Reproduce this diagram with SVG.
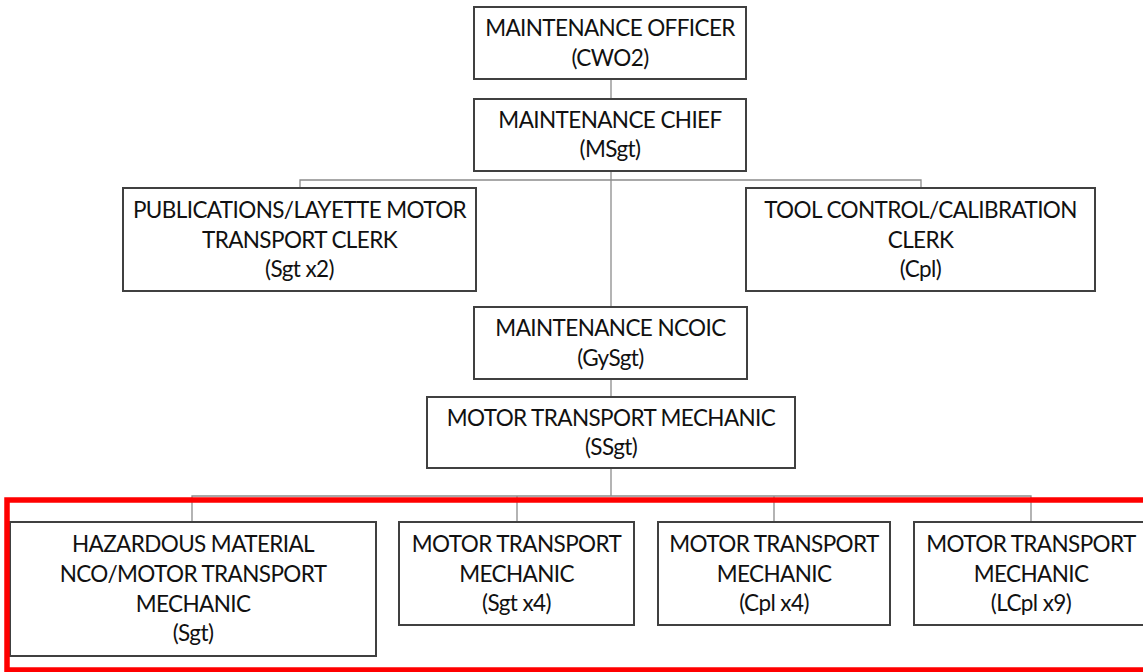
<svg xmlns="http://www.w3.org/2000/svg" width="1143" height="672" viewBox="0 0 1143 672">
  <style>
    .box { fill: #ffffff; stroke: #404040; stroke-width: 2; }
    .lbl { font-family: Lato, "Open Sans", "Liberation Sans", sans-serif; font-size: 22.5px; letter-spacing: -0.6px; fill: #111111; text-anchor: middle; }
    .wire { fill: none; stroke: #8c8c8c; stroke-width: 1.3; }
    .hl { fill: none; stroke: #ff0000; stroke-width: 5.5; }
  </style>
  <rect width="1143" height="672" fill="#ffffff"/>

  <!-- connectors -->
  <g id="connectors">
    <path class="wire" d="M611,79 V99"/>
    <path class="wire" d="M611,171 V307"/>
    <path class="wire" d="M300,188 V180 H921 V188"/>
    <path class="wire" d="M611,379 V397"/>
    <path class="wire" d="M611,468 V496"/>
    <path class="wire" d="M192,522 V496 H1031 V522 M517,496 V522 M774,496 V522"/>
  </g>

  <g id="officer">
    <rect class="box" x="474" y="7" width="272" height="72"/>
    <text class="lbl" x="610" y="36">MAINTENANCE OFFICER</text>
    <text class="lbl" x="610" y="66">(CWO2)</text>
  </g>

  <g id="chief">
    <rect class="box" x="474" y="99" width="272" height="72"/>
    <text class="lbl" x="610" y="128">MAINTENANCE CHIEF</text>
    <text class="lbl" x="610" y="157">(MSgt)</text>
  </g>

  <g id="pubs-clerk">
    <rect class="box" x="123" y="188" width="353" height="103"/>
    <text class="lbl" x="299.5" y="218">PUBLICATIONS/LAYETTE MOTOR</text>
    <text class="lbl" x="299.5" y="247.5">TRANSPORT CLERK</text>
    <text class="lbl" x="299.5" y="277">(Sgt x2)</text>
  </g>

  <g id="tool-clerk">
    <rect class="box" x="746" y="188" width="349" height="103"/>
    <text class="lbl" x="920.5" y="218">TOOL CONTROL/CALIBRATION</text>
    <text class="lbl" x="920.5" y="247.5">CLERK</text>
    <text class="lbl" x="920.5" y="277">(Cpl)</text>
  </g>

  <g id="ncoic">
    <rect class="box" x="474" y="307" width="273" height="72"/>
    <text class="lbl" x="610.5" y="336">MAINTENANCE NCOIC</text>
    <text class="lbl" x="610.5" y="366">(GySgt)</text>
  </g>

  <g id="mech-ssgt">
    <rect class="box" x="427" y="397" width="368" height="71"/>
    <text class="lbl" x="611" y="426">MOTOR TRANSPORT MECHANIC</text>
    <text class="lbl" x="611" y="455">(SSgt)</text>
  </g>

  <g id="hazmat">
    <rect class="box" x="10" y="522" width="366" height="134"/>
    <text class="lbl" x="193" y="552">HAZARDOUS MATERIAL</text>
    <text class="lbl" x="193" y="582">NCO/MOTOR TRANSPORT</text>
    <text class="lbl" x="193" y="611.5">MECHANIC</text>
    <text class="lbl" x="193" y="641">(Sgt)</text>
  </g>

  <g id="mech-sgt">
    <rect class="box" x="399" y="522" width="235" height="103"/>
    <text class="lbl" x="516.5" y="552">MOTOR TRANSPORT</text>
    <text class="lbl" x="516.5" y="581.5">MECHANIC</text>
    <text class="lbl" x="516.5" y="611">(Sgt x4)</text>
  </g>

  <g id="mech-cpl">
    <rect class="box" x="658" y="522" width="232" height="103"/>
    <text class="lbl" x="774" y="552">MOTOR TRANSPORT</text>
    <text class="lbl" x="774" y="581.5">MECHANIC</text>
    <text class="lbl" x="774" y="611">(Cpl x4)</text>
  </g>

  <g id="mech-lcpl">
    <rect class="box" x="914" y="522" width="234" height="103"/>
    <text class="lbl" x="1031" y="552">MOTOR TRANSPORT</text>
    <text class="lbl" x="1031" y="581.5">MECHANIC</text>
    <text class="lbl" x="1031" y="611">(LCpl x9)</text>
  </g>

  <!-- highlight frame around the mechanic section -->
  <rect id="highlight" class="hl" x="7" y="500" width="1150" height="170"/>
</svg>
